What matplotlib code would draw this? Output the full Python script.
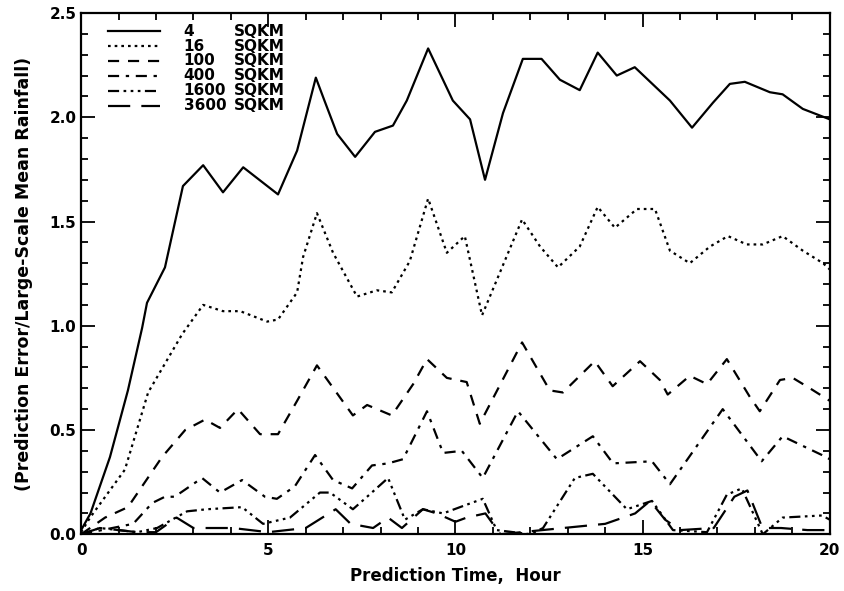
import matplotlib
matplotlib.use("Agg")
import matplotlib.pyplot as plt
from matplotlib.ticker import MultipleLocator, FormatStrFormatter

# error curves, one per averaging area
hours_4 = [0, 0.25, 0.77, 1.25, 1.63, 1.76, 2.24, 2.72, 3.26, 3.79, 4.33, 5.26, 5.77, 6.27, 6.5, 6.84,
           7.32, 7.85, 8.33, 8.7, 9.27, 9.93, 10.39, 10.79, 11.27, 11.8, 12.3, 12.79, 13.32, 13.8, 14.31,
           14.79, 15.73, 16.32, 16.88, 17.33, 17.73, 18.4, 18.74, 19.28, 20]
err_4 = [0.02, 0.1, 0.37, 0.69, 0.99, 1.11, 1.28, 1.67, 1.77, 1.64, 1.76, 1.63, 1.84, 2.19, 2.08, 1.92,
         1.81, 1.93, 1.96, 2.08, 2.33, 2.08, 1.99, 1.70, 2.02, 2.28, 2.28, 2.18, 2.13, 2.31, 2.20,
         2.24, 2.08, 1.95, 2.07, 2.16, 2.17, 2.12, 2.11, 2.04, 1.99]

hours_16 = [0, 0.24, 1.17, 1.79, 2.7, 3.26, 3.79, 4.25, 4.97, 5.26, 5.77, 5.93, 6.3, 6.73, 7.37, 7.9,
            8.3, 8.78, 9.27, 9.77, 10.25, 10.71, 11.78, 12.26, 12.74, 13.32, 13.8, 14.26, 14.85, 15.33,
            15.73, 16.26, 16.8, 17.28, 17.78, 18.21, 18.74, 19.28, 19.82, 20]
err_16 = [0.01, 0.08, 0.31, 0.68, 0.96, 1.10, 1.07, 1.07, 1.02, 1.03, 1.16, 1.33, 1.54, 1.35, 1.14, 1.17,
          1.16, 1.31, 1.61, 1.35, 1.43, 1.05, 1.51, 1.38, 1.28, 1.38, 1.57, 1.47, 1.56, 1.56,
          1.36, 1.30, 1.38, 1.43, 1.39, 1.39, 1.43, 1.36, 1.30, 1.27]

hours_100 = [0, 0.64, 1.25, 2.16, 2.78, 3.31, 3.71, 4.19, 4.78, 5.26, 5.77, 6.3, 7.26, 7.64, 8.3, 8.87,
             9.24, 9.77, 10.3, 10.65, 11.78, 12.52, 12.87, 13.72, 14.2, 14.93, 15.46, 15.67, 16.26,
             16.72, 17.25, 17.86, 18.13, 18.67, 19.01, 19.47, 20]
err_100 = [0.0, 0.08, 0.13, 0.37, 0.50, 0.55, 0.51, 0.60, 0.48, 0.48, 0.64, 0.81, 0.57, 0.62, 0.57, 0.72,
           0.84, 0.75, 0.73, 0.53, 0.92, 0.69, 0.68, 0.83, 0.71, 0.83, 0.74, 0.67, 0.76,
           0.72, 0.84, 0.66, 0.59, 0.74, 0.75, 0.70, 0.64]

hours_400 = [0, 1.39, 1.9, 2.24, 2.5, 3.23, 3.71, 4.3, 4.91, 5.23, 5.71, 6.25, 6.73, 7.24, 7.77, 8.2,
             8.6, 9.24, 9.67, 10.17, 10.73, 11.67, 12.71, 13.67, 14.21, 15.25, 15.73, 17.14, 18.18,
             18.74, 19.79, 20]
err_400 = [0.0, 0.05, 0.15, 0.18, 0.18, 0.27, 0.20, 0.26, 0.18, 0.17, 0.23, 0.38, 0.26, 0.22, 0.33, 0.34,
           0.36, 0.59, 0.39, 0.40, 0.27, 0.59, 0.36, 0.47, 0.34, 0.35, 0.24, 0.60, 0.35,
           0.47, 0.38, 0.36]

hours_1600 = [0, 0.5, 1.0, 1.5, 2.03, 2.83, 3.36, 4.3, 4.86, 5.58, 6.38, 6.65, 7.26, 7.64, 8.2, 8.65,
              9.13, 9.67, 10.12, 10.73, 11.1, 12.0, 12.34, 13.19, 13.67, 14.58, 15.25, 15.81, 16.72,
              17.25, 17.65, 18.21, 18.74, 19.79, 20]
err_1600 = [0.0, 0.03, 0.02, 0.01, 0.03, 0.11, 0.12, 0.13, 0.05, 0.08, 0.20, 0.20, 0.12, 0.18, 0.27, 0.07,
            0.12, 0.10, 0.13, 0.17, 0.02, 0.0, 0.03, 0.27, 0.29, 0.12, 0.16, 0.02, 0.01,
            0.19, 0.22, 0.0, 0.08, 0.09, 0.07]

hours_3600 = [0, 0.5, 1.0, 1.5, 2.0, 2.55, 3.0, 4.05, 5.0, 6.0, 6.8, 7.2, 7.8, 8.2, 8.57, 9.13, 9.5,
              10.0, 10.3, 10.8, 11.2, 14.0, 14.8, 15.2, 15.6, 16.0, 16.9, 17.45, 17.8, 18.2, 18.7,
              19.4, 20]
err_3600 = [0.0, 0.03, 0.02, 0.01, 0.01, 0.08, 0.03, 0.03, 0.01, 0.03, 0.12, 0.05, 0.03, 0.08, 0.03, 0.12, 0.10,
            0.06, 0.08, 0.10, 0.0, 0.05, 0.10, 0.16, 0.07, 0.02, 0.03, 0.18, 0.21, 0.03, 0.03,
            0.02, 0.02]

areas = ["4", "16", "100", "400", "1600", "3600"]
styles = ["-", (0, (1.2, 1.8)), (0, (5, 4)), (0, (5, 3, 1.5, 3)),
          (0, (5, 2, 1.2, 2, 1.2, 2, 1.2, 2)), (0, (10, 5))]

fig = plt.figure(figsize=(8.45, 5.91), dpi=100)
ax = fig.add_axes([0.096, 0.096, 0.886, 0.882])

series = [(hours_4, err_4), (hours_16, err_16), (hours_100, err_100),
          (hours_400, err_400), (hours_1600, err_1600), (hours_3600, err_3600)]
for (h, e), ls in zip(series, styles):
    ax.plot(h, e, color="black", linestyle=ls, linewidth=1.6)

# hand-made legend, IDL style
for i, (name, ls) in enumerate(zip(areas, styles)):
    yy = 0.965 - i * 0.0285
    ax.plot([0.036, 0.106], [yy, yy], transform=ax.transAxes, color="black",
            linestyle=ls, linewidth=1.6)
    ax.text(0.137, yy, name, transform=ax.transAxes, fontsize=11, fontweight="bold",
            va="center", ha="left")
    ax.text(0.204, yy, "SQKM", transform=ax.transAxes, fontsize=11, fontweight="bold",
            va="center", ha="left")

ax.set_xlim(0, 20)
ax.set_ylim(0, 2.5)
ax.xaxis.set_major_locator(MultipleLocator(5))
ax.xaxis.set_minor_locator(MultipleLocator(1))
ax.yaxis.set_major_locator(MultipleLocator(0.5))
ax.yaxis.set_minor_locator(MultipleLocator(0.1))
ax.yaxis.set_major_formatter(FormatStrFormatter("%.1f"))
ax.tick_params(which="both", direction="in", top=True, right=True, width=1.3, labelsize=11)
ax.tick_params(which="major", length=10)
ax.tick_params(which="minor", length=5)
ax.tick_params(axis="x", which="major", pad=6)
for lab in ax.get_xticklabels() + ax.get_yticklabels():
    lab.set_fontweight("bold")
for sp in ax.spines.values():
    sp.set_linewidth(1.6)

ax.set_xlabel("Prediction Time,  Hour", fontsize=12, fontweight="bold", labelpad=7)
ax.set_ylabel("(Prediction Error/Large-Scale Mean Rainfall)", fontsize=12.5, fontweight="bold",
              labelpad=12)

fig.savefig("out.png", dpi=100)
